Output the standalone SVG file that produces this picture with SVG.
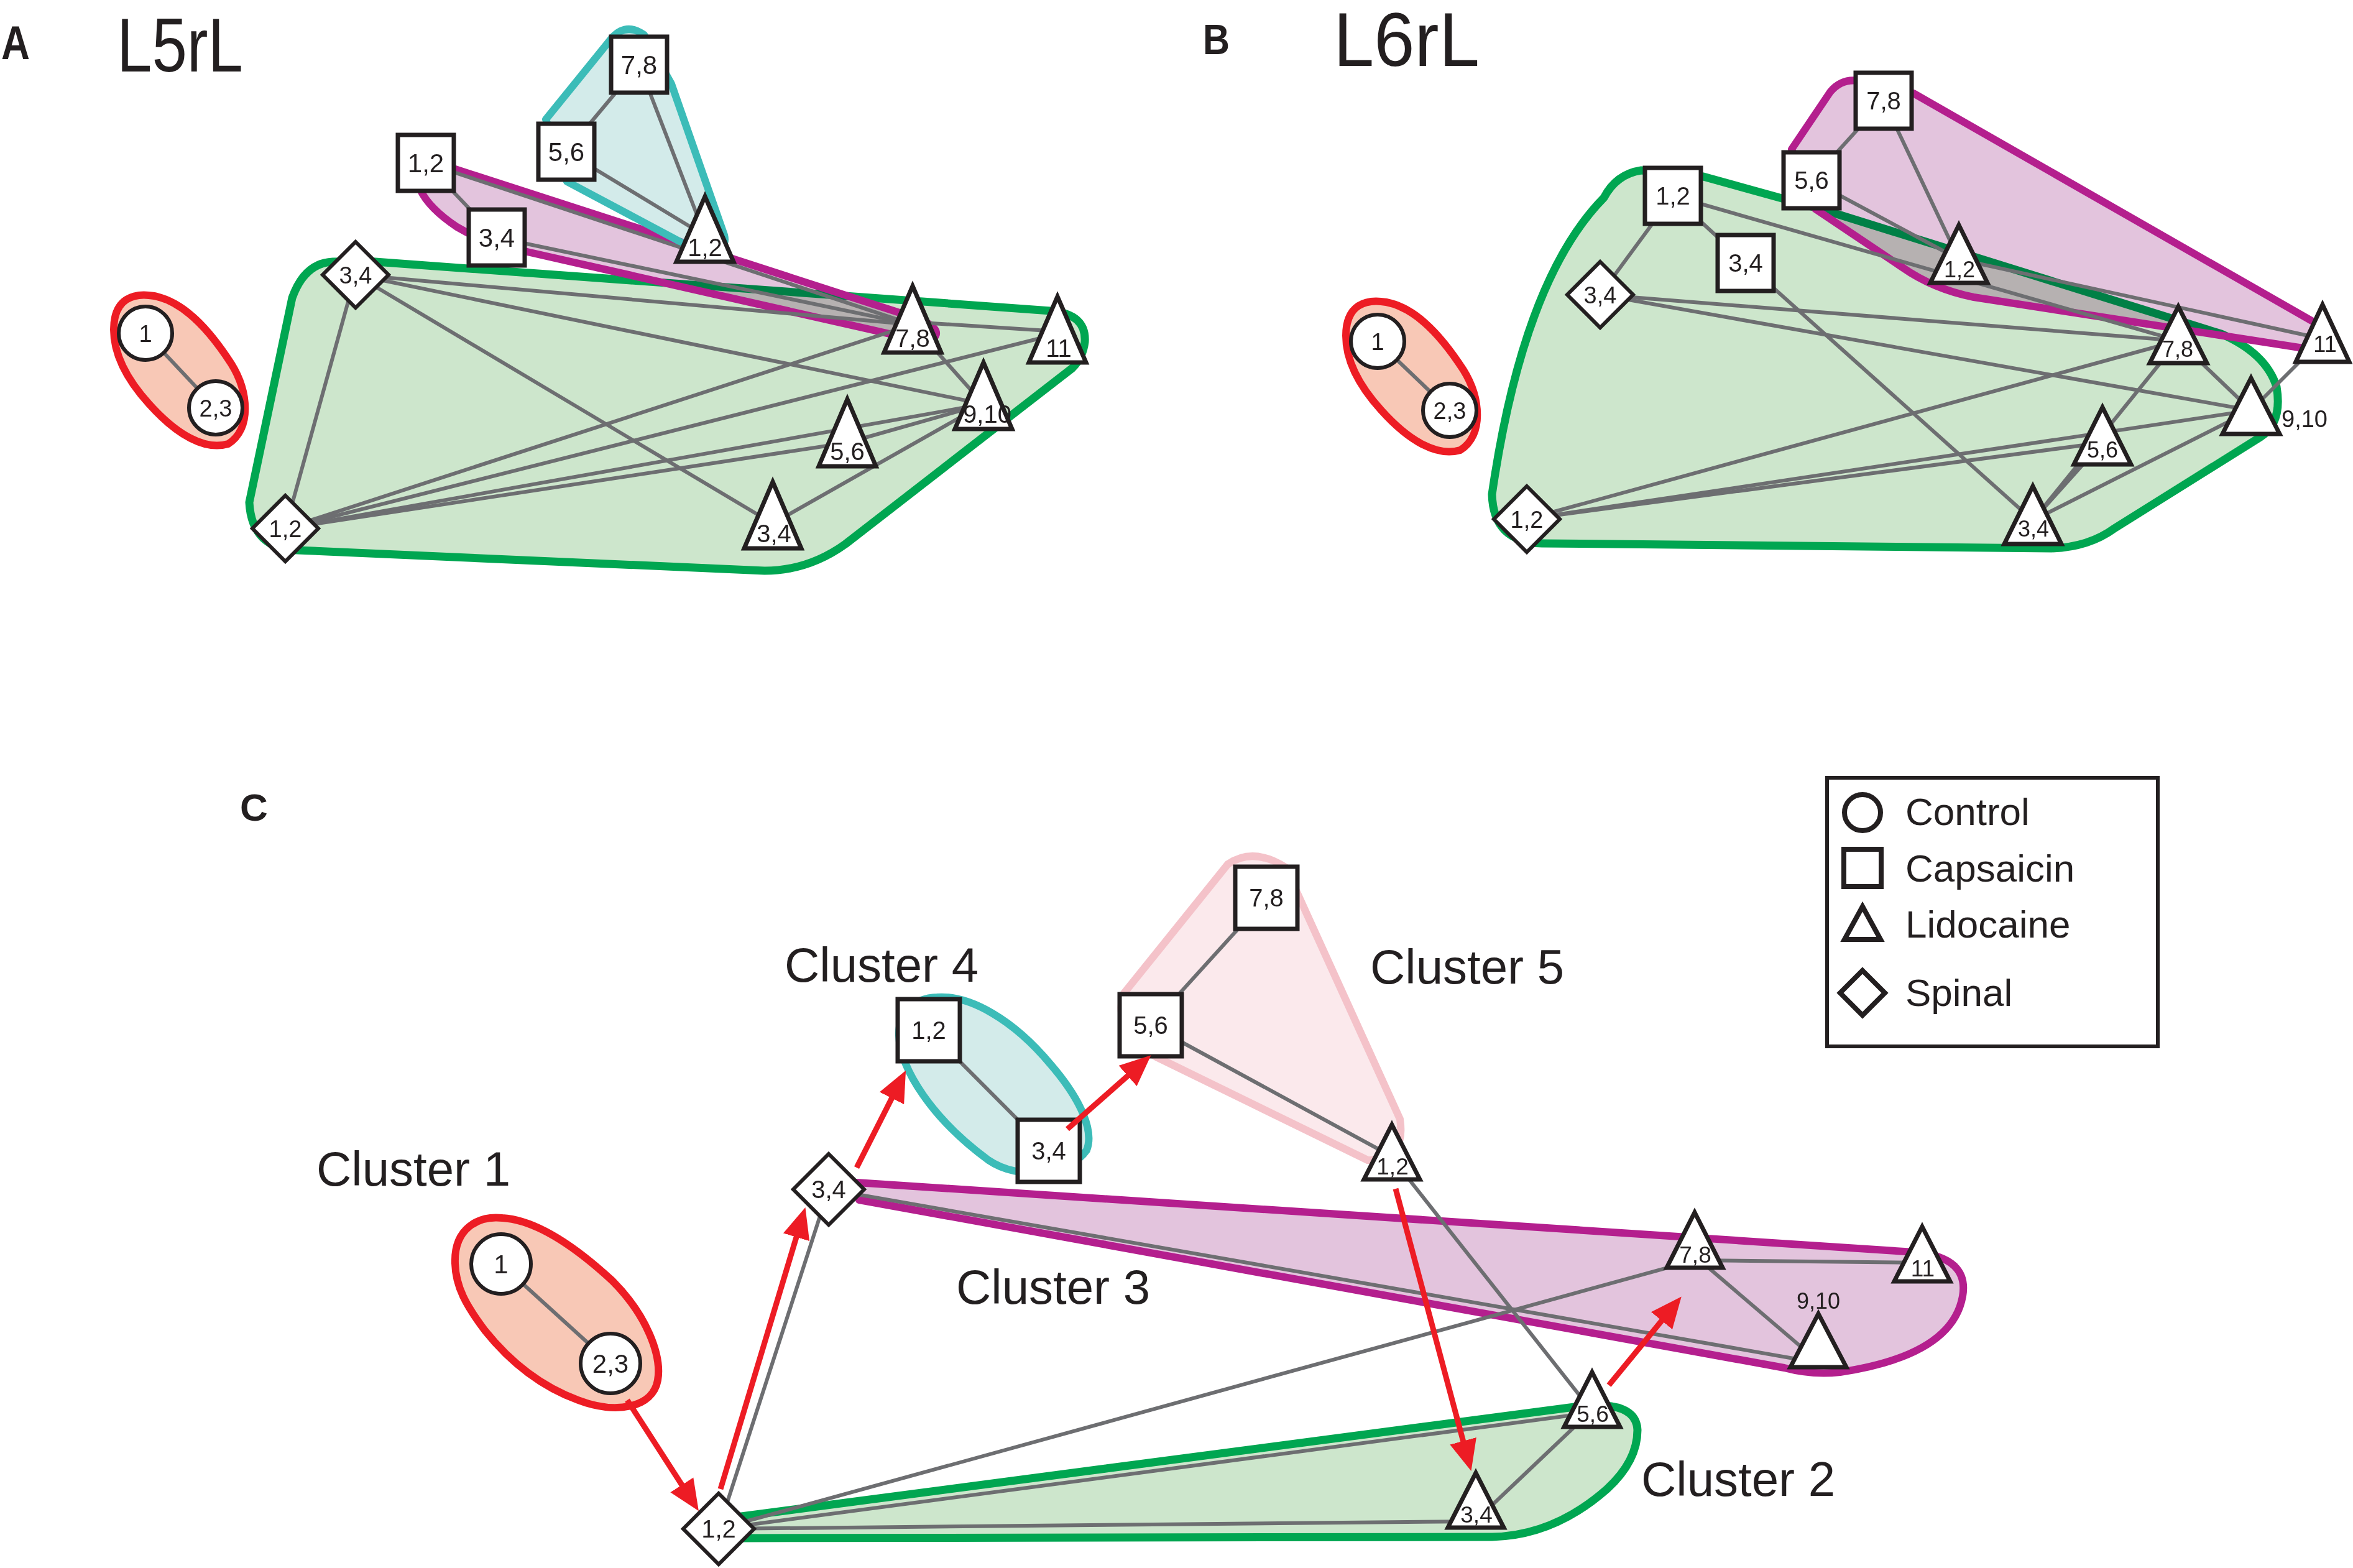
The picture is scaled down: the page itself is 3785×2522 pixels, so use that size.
<svg xmlns="http://www.w3.org/2000/svg" width="3785" height="2522" viewBox="0 0 3785 2522">
<defs>
<style>
.t{font-family:"Liberation Sans",Arial,Helvetica,sans-serif;fill:#231f20}
.b{font-weight:bold}
.n text{font-family:"Liberation Sans",Arial,Helvetica,sans-serif;fill:#231f20;text-anchor:middle}
.n rect,.n polygon,.n circle{fill:#fff;stroke:#231f20;stroke-width:7;stroke-miterlimit:10}
.n circle,.n .d{stroke-width:6}
.e line{stroke:#6d6e71;stroke-width:6}
.ar{stroke:#ed1c24;stroke-width:9;fill:none;marker-end:url(#ah)}
.gF{fill:#cde6cc}
.gS{fill:none;stroke:#00a651;stroke-width:13;stroke-linejoin:round}
.mF{fill:#e3c4dd;mix-blend-mode:multiply}
.mS{fill:none;stroke:#b41f8e;stroke-width:12;stroke-linejoin:round}
.cF{fill:#d3ebea;mix-blend-mode:multiply}
.cS{fill:none;stroke:#3cbcb8;stroke-width:12;stroke-linejoin:round}
.rF{fill:#f8c8b6}
.rS{fill:none;stroke:#ed1c24;stroke-width:12}
.pF{fill:#fbe9ec}
.pS{fill:none;stroke:#f4c2c9;stroke-width:12;stroke-linejoin:round}
.leg rect,.leg circle,.leg polygon{fill:none;stroke:#231f20;stroke-width:8}
</style>
<marker id="ah" markerUnits="userSpaceOnUse" markerWidth="52" markerHeight="46" viewBox="0 -23 52 46" refX="2" refY="0" orient="auto"><path d="M0,-22 L50,0 L0,22 Z" fill="#ed1c24"/></marker>
<path id="hAg" d="M 590,420 L 1690,500 Q 1748,505 1745,550 Q 1742,575 1725,592 L 1360,875 Q 1300,918 1230,918 L 479,885 Q 405,883 401,808 L 470,479 Q 490,423 535,421 Z"/>
<path id="hAm" d="M 720,268 L 1478,513 Q 1515,528 1503,543 Q 1492,552 1462,544 L 848,405 Q 780,392 735,365 Q 690,335 676,305 Z"/>
<path id="hAc" d="M 985,60 Q 1008,36 1036,56 L 1080,135 L 1165,378 Q 1170,398 1150,398 L 1100,392 L 912,292 L 878,192 Z"/>
<path id="hAr" d="M 183,530 C 183,480 215,470 248,476 C 290,484 330,520 372,585 C 400,630 405,690 367,714 C 330,725 285,700 240,650 C 210,617 183,575 183,530 Z"/>
<path id="hBg" d="M 2640,274 L 2740,284 L 2935,338 L 3573,537 Q 3645,568 3662,622 Q 3672,680 3636,703 L 3401,850 Q 3360,880 3300,882 L 2480,874 Q 2402,872 2400,795 Q 2450,450 2580,318 Q 2600,280 2640,274 Z"/>
<path id="hBm" d="M 2990,130 L 3078,150 L 3722,518 Q 3748,548 3718,562 L 3175,478 Q 3110,465 3060,430 L 2920,336 L 2882,240 L 2944,148 Q 2962,126 2990,130 Z"/>
<path id="hCr" d="M 732,2032 C 730,1975 770,1955 808,1959 C 860,1962 920,2000 985,2060 C 1040,2115 1065,2180 1058,2220 C 1050,2265 990,2275 930,2252 C 870,2230 820,2190 780,2140 C 750,2100 733,2070 732,2032 Z"/>
<path id="hCc" d="M 1507,1604 C 1470,1605 1445,1630 1446,1665 C 1448,1720 1500,1800 1590,1866 C 1640,1900 1720,1890 1748,1850 C 1760,1820 1740,1770 1690,1712 C 1630,1640 1560,1600 1507,1604 Z"/>
<path id="hCp" d="M 1806,1600 L 1975,1390 Q 2016,1362 2068,1395 L 2252,1800 Q 2262,1868 2200,1866 L 1860,1700 Q 1792,1662 1806,1600 Z"/>
<path id="hCm" d="M 1378,1902 L 3080,2014 Q 3168,2022 3157,2085 Q 3140,2180 2960,2207 Q 2915,2212 2870,2200 L 1382,1930 Z"/>
<path id="hCg" d="M 1185,2440 L 2540,2262 Q 2632,2252 2634,2300 Q 2634,2350 2585,2395 Q 2500,2470 2400,2472 L 1185,2474 Z"/>
</defs>
<rect width="3785" height="2522" fill="#fff"/>

<!-- panel titles and cluster labels -->
<g id="titles">
<text class="t b" x="2" y="95" font-size="76" textLength="46" lengthAdjust="spacingAndGlyphs">A</text>
<text class="t" x="188" y="115" font-size="122" textLength="203" lengthAdjust="spacingAndGlyphs">L5rL</text>
<text class="t b" x="1935" y="87" font-size="68" textLength="43" lengthAdjust="spacingAndGlyphs">B</text>
<text class="t" x="2145" y="106" font-size="122" textLength="235" lengthAdjust="spacingAndGlyphs">L6rL</text>
<text class="t b" x="386" y="1320" font-size="62">C</text>
<text class="t" x="509" y="1907" font-size="78">Cluster 1</text>
<text class="t" x="1262" y="1579" font-size="78">Cluster 4</text>
<text class="t" x="1538" y="2097" font-size="78">Cluster 3</text>
<text class="t" x="2204" y="1582" font-size="78">Cluster 5</text>
<text class="t" x="2640" y="2406" font-size="78">Cluster 2</text>
</g>

<!-- cluster hulls -->
<g id="hulls">
<use href="#hAr" class="rF"/><use href="#hAr" class="rS"/>
<use href="#hAg" class="gF"/><use href="#hAg" class="gS"/>
<use href="#hAm" class="mF"/><use href="#hAm" class="mS"/>
<use href="#hAc" class="cF"/><use href="#hAc" class="cS"/>
<g transform="translate(1982,10)"><use href="#hAr" class="rF"/><use href="#hAr" class="rS"/></g>
<use href="#hBg" class="gF"/><use href="#hBg" class="gS"/>
<use href="#hBm" class="mF"/><use href="#hBm" class="mS"/>
<use href="#hCr" class="rF"/><use href="#hCr" class="rS"/>
<use href="#hCc" class="cF"/><use href="#hCc" class="cS"/>
<use href="#hCp" class="pF"/><use href="#hCp" class="pS"/>
<use href="#hCm" class="mF"/><use href="#hCm" class="mS"/>
<use href="#hCg" class="gF"/><use href="#hCg" class="gS"/>
</g>

<!-- connectors -->
<g id="connectors" class="e">
<line x1="234" y1="536" x2="347" y2="656"/>
<line x1="685" y1="262" x2="799" y2="382"/>
<line x1="685" y1="262" x2="1468" y2="522"/>
<line x1="799" y1="382" x2="1468" y2="522"/>
<line x1="911" y1="244" x2="1028" y2="104"/>
<line x1="1028" y1="104" x2="1134" y2="379"/>
<line x1="911" y1="244" x2="1134" y2="379"/>
<line x1="572" y1="442" x2="459" y2="850"/>
<line x1="572" y1="442" x2="1468" y2="522"/>
<line x1="572" y1="442" x2="1582" y2="650"/>
<line x1="572" y1="442" x2="1243" y2="842"/>
<line x1="459" y1="850" x2="1468" y2="522"/>
<line x1="459" y1="850" x2="1701" y2="537"/>
<line x1="459" y1="850" x2="1582" y2="650"/>
<line x1="459" y1="850" x2="1363" y2="712"/>
<line x1="1363" y1="712" x2="1582" y2="650"/>
<line x1="1468" y1="518" x2="1701" y2="533"/>
<line x1="1468" y1="522" x2="1582" y2="650"/>
<line x1="1582" y1="650" x2="1243" y2="842"/>
<line x1="2216" y1="549" x2="2332" y2="660"/>
<line x1="2691" y1="315" x2="2574" y2="474"/>
<line x1="2691" y1="315" x2="2808" y2="423"/>
<line x1="2691" y1="315" x2="3504" y2="548"/>
<line x1="2914" y1="290" x2="3030" y2="162"/>
<line x1="3030" y1="162" x2="3151" y2="417"/>
<line x1="2914" y1="290" x2="3151" y2="417"/>
<line x1="3151" y1="417" x2="3736" y2="545"/>
<line x1="2808" y1="423" x2="3270" y2="837"/>
<line x1="2574" y1="474" x2="3504" y2="548"/>
<line x1="2574" y1="474" x2="3621" y2="660"/>
<line x1="2456" y1="835" x2="3504" y2="548"/>
<line x1="2456" y1="835" x2="3621" y2="660"/>
<line x1="2456" y1="835" x2="3382" y2="712"/>
<line x1="3504" y1="548" x2="3621" y2="660"/>
<line x1="3504" y1="548" x2="3270" y2="837"/>
<line x1="3382" y1="712" x2="3270" y2="837"/>
<line x1="3621" y1="660" x2="3270" y2="837"/>
<line x1="3621" y1="660" x2="3736" y2="545"/>
<line x1="806" y1="2033" x2="982" y2="2193"/>
<line x1="1494" y1="1657" x2="1687" y2="1851"/>
<line x1="1851" y1="1649" x2="2037" y2="1444"/>
<line x1="1851" y1="1649" x2="2239" y2="1860"/>
<line x1="2239" y1="1862" x2="2561" y2="2270"/>
<line x1="1156" y1="2459" x2="1333" y2="1913"/>
<line x1="1333" y1="1913" x2="2925" y2="2192"/>
<line x1="1156" y1="2459" x2="2726" y2="2027"/>
<line x1="1156" y1="2459" x2="2561" y2="2272"/>
<line x1="1156" y1="2459" x2="2374" y2="2447"/>
<line x1="2380" y1="2440" x2="2561" y2="2268"/>
<line x1="2726" y1="2027" x2="3092" y2="2031"/>
<line x1="2726" y1="2020" x2="2925" y2="2190"/>
</g>

<!-- nodes panel A -->
<g class="n">
<g id="A-ctrl-1"><circle cx="234" cy="536" r="43"/><text x="234" y="550" font-size="38">1</text></g>
<g id="A-ctrl-23"><circle cx="347" cy="656" r="43"/><text x="347" y="670" font-size="38">2,3</text></g>
<g id="A-cap-12"><rect x="640" y="217" width="90" height="90"/><text x="685" y="277" font-size="42">1,2</text></g>
<g id="A-cap-34"><rect x="754" y="337" width="90" height="90"/><text x="799" y="397" font-size="42">3,4</text></g>
<g id="A-cap-56"><rect x="866" y="199" width="90" height="90"/><text x="911" y="259" font-size="42">5,6</text></g>
<g id="A-cap-78"><rect x="983" y="59" width="90" height="90"/><text x="1028" y="119" font-size="42">7,8</text></g>
<g id="A-sp-34"><polygon class="d" points="572,389 625,442 572,495 519,442"/><text x="572" y="456" font-size="38">3,4</text></g>
<g id="A-sp-12"><polygon class="d" points="459,797 512,850 459,903 406,850"/><text x="459" y="864" font-size="38">1,2</text></g>
<g id="A-lid-12"><polygon points="1134,316 1180,421 1088,421"/><text x="1134" y="412" font-size="40">1,2</text></g>
<g id="A-lid-78"><polygon points="1468,460 1514,567 1422,567"/><text x="1468" y="558" font-size="40">7,8</text></g>
<g id="A-lid-11"><polygon points="1701,477 1747,583 1655,583"/><text x="1703" y="574" font-size="40">11</text></g>
<g id="A-lid-910"><polygon points="1582,583 1628,690 1536,690"/><text x="1588" y="680" font-size="40">9,10</text></g>
<g id="A-lid-56"><polygon points="1363,642 1409,750 1317,750"/><text x="1363" y="740" font-size="40">5,6</text></g>
<g id="A-lid-34"><polygon points="1243,775 1289,882 1197,882"/><text x="1245" y="872" font-size="40">3,4</text></g>
</g>

<!-- nodes panel B -->
<g class="n">
<g id="B-ctrl-1"><circle cx="2216" cy="549" r="43"/><text x="2216" y="563" font-size="38">1</text></g>
<g id="B-ctrl-23"><circle cx="2332" cy="660" r="43"/><text x="2332" y="674" font-size="38">2,3</text></g>
<g id="B-cap-12"><rect x="2646" y="270" width="90" height="90"/><text x="2691" y="329" font-size="40">1,2</text></g>
<g id="B-cap-34"><rect x="2763" y="378" width="90" height="90"/><text x="2808" y="437" font-size="40">3,4</text></g>
<g id="B-cap-56"><rect x="2869" y="245" width="90" height="90"/><text x="2914" y="304" font-size="40">5,6</text></g>
<g id="B-cap-78"><rect x="2985" y="117" width="90" height="90"/><text x="3030" y="176" font-size="40">7,8</text></g>
<g id="B-sp-34"><polygon class="d" points="2574,421 2627,474 2574,527 2521,474"/><text x="2574" y="488" font-size="38">3,4</text></g>
<g id="B-sp-12"><polygon class="d" points="2456,782 2509,835 2456,888 2403,835"/><text x="2456" y="849" font-size="38">1,2</text></g>
<g id="B-lid-12"><polygon points="3151,362 3197,455 3105,455"/><text x="3152" y="446" font-size="36">1,2</text></g>
<g id="B-lid-78"><polygon points="3504,493 3550,584 3458,584"/><text x="3503" y="574" font-size="36">7,8</text></g>
<g id="B-lid-11"><polygon points="3736,490 3779,582 3693,582"/><text x="3740" y="566" font-size="36">11</text></g>
<g id="B-lid-910"><polygon points="3621,608 3667,698 3575,698"/><text x="3707" y="687" font-size="38">9,10</text></g>
<g id="B-lid-56"><polygon points="3382,655 3428,747 3336,747"/><text x="3382" y="736" font-size="36">5,6</text></g>
<g id="B-lid-34"><polygon points="3270,782 3316,875 3224,875"/><text x="3271" y="863" font-size="36">3,4</text></g>
</g>

<!-- nodes panel C -->
<g class="n">
<g id="C-ctrl-1"><circle cx="806" cy="2033" r="48"/><text x="806" y="2048" font-size="42">1</text></g>
<g id="C-ctrl-23"><circle cx="982" cy="2193" r="48"/><text x="982" y="2208" font-size="42">2,3</text></g>
<g id="C-sp-12"><polygon class="d" points="1156,2402 1213,2459 1156,2516 1099,2459"/><text x="1156" y="2473" font-size="40">1,2</text></g>
<g id="C-sp-34"><polygon class="d" points="1333,1856 1390,1913 1333,1970 1276,1913"/><text x="1333" y="1927" font-size="40">3,4</text></g>
<g id="C-cap-12"><rect x="1444" y="1607" width="100" height="100"/><text x="1494" y="1671" font-size="40">1,2</text></g>
<g id="C-cap-34"><rect x="1637" y="1801" width="100" height="100"/><text x="1687" y="1865" font-size="40">3,4</text></g>
<g id="C-cap-56"><rect x="1801" y="1599" width="100" height="100"/><text x="1851" y="1663" font-size="40">5,6</text></g>
<g id="C-cap-78"><rect x="1987" y="1394" width="100" height="100"/><text x="2037" y="1458" font-size="40">7,8</text></g>
<g id="C-lid-12"><polygon points="2239,1809 2284,1897 2194,1897"/><text x="2240" y="1889" font-size="37">1,2</text></g>
<g id="C-lid-78"><polygon points="2726,1950 2771,2039 2681,2039"/><text x="2727" y="2031" font-size="37">7,8</text></g>
<g id="C-lid-11"><polygon points="3092,1973 3137,2061 3047,2061"/><text x="3093" y="2053" font-size="37">11</text></g>
<g id="C-lid-910"><polygon points="2925,2113 2970,2199 2880,2199"/><text x="2925" y="2105" font-size="36">9,10</text></g>
<g id="C-lid-56"><polygon points="2561,2207 2606,2295 2516,2295"/><text x="2562" y="2287" font-size="37">5,6</text></g>
<g id="C-lid-34"><polygon points="2374,2369 2419,2457 2329,2457"/><text x="2375" y="2449" font-size="37">3,4</text></g>
</g>

<!-- transition arrows -->
<g id="arrows">
<path class="ar" d="M1009,2252 L1097.9,2390"/>
<path class="ar" d="M1159,2395 L1281.6,1987.9"/>
<path class="ar" d="M1378,1878 L1435.4,1764.6"/>
<path class="ar" d="M1717,1816 L1815.5,1729.1"/>
<path class="ar" d="M2245,1912 L2354.1,2319.7"/>
<path class="ar" d="M2588,2228 L2674.3,2122.7"/>
</g>

<!-- legend -->
<g id="legend" class="leg">
<rect x="2939" y="1251" width="532" height="432" style="stroke-width:6"/>
<circle cx="2996" cy="1307" r="29"/>
<rect x="2966" y="1366" width="60" height="60"/>
<polygon points="2996,1458 3025,1511 2967,1511"/>
<polygon points="2996,1561 3032,1597 2996,1633 2960,1597"/>
<text class="t" x="3065" y="1327" font-size="62">Control</text>
<text class="t" x="3065" y="1418" font-size="62">Capsaicin</text>
<text class="t" x="3065" y="1508" font-size="62">Lidocaine</text>
<text class="t" x="3065" y="1618" font-size="62">Spinal</text>
</g>
</svg>
